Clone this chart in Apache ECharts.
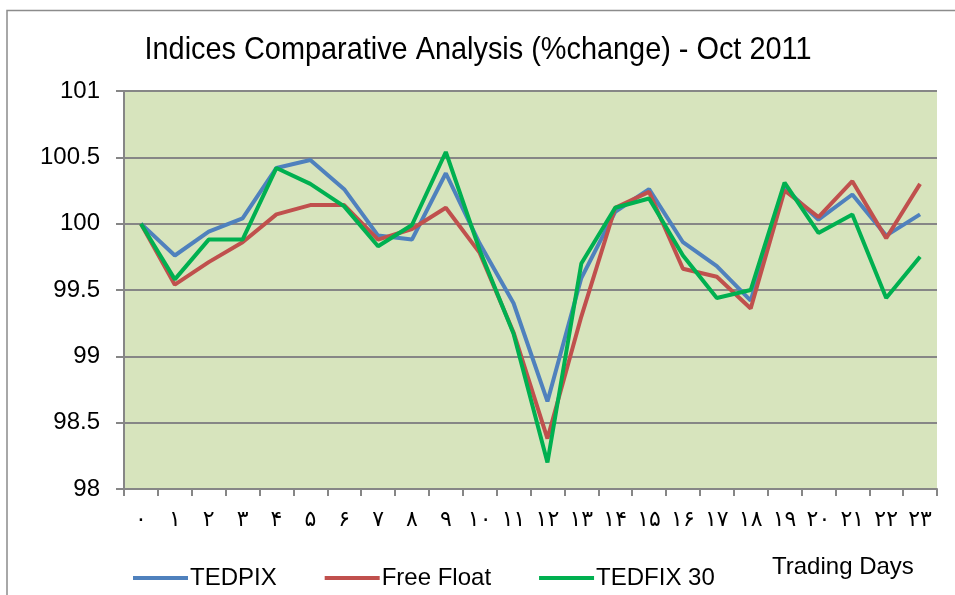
<!DOCTYPE html>
<html>
<head>
<meta charset="utf-8">
<script src="https://cdn.jsdelivr.net/npm/echarts@6/dist/echarts.min.js"></script>
<style>html,body{margin:0;padding:0;background:#fff}#c{width:955px;height:595px}</style>
</head>
<body>
<div id="c"></div>
<script>
const categories = ['۰','۱','۲','۳','۴','۵','۶','۷','۸','۹','۱۰','۱۱','۱۲','۱۳','۱۴','۱۵','۱۶','۱۷','۱۸','۱۹','۲۰','۲۱','۲۲','۲۳'];
const tedpix = [100, 99.76, 99.94, 100.04, 100.42, 100.48, 100.26, 99.91, 99.88, 100.38, 99.85, 99.40, 98.66, 99.59, 100.09, 100.26, 99.86, 99.68, 99.42, 100.27, 100.03, 100.22, 99.91, 100.07];
const freeFloat = [100, 99.54, 99.71, 99.86, 100.07, 100.14, 100.14, 99.88, 99.96, 100.12, 99.78, 99.18, 98.38, 99.30, 100.12, 100.24, 99.66, 99.60, 99.36, 100.25, 100.05, 100.32, 99.89, 100.30];
const tedfix30 = [100, 99.58, 99.88, 99.88, 100.42, 100.30, 100.13, 99.83, 99.99, 100.54, 99.80, 99.17, 98.20, 99.70, 100.12, 100.19, 99.76, 99.44, 99.50, 100.31, 99.93, 100.07, 99.44, 99.75];
const seriesNames = ['TEDPIX', 'Free Float', 'TEDFIX 30'];
const titleText = 'Indices Comparative Analysis (%change) - Oct 2011';
const xAxisTitle = 'Trading Days';

const titleFont = '32px "Liberation Sans", Arial, sans-serif';
const ctx = document.createElement('canvas').getContext('2d');
ctx.font = titleFont;
const titleScale = Math.min(1, 667 / ctx.measureText(titleText).width);

const chart = echarts.init(document.getElementById('c'), null, {renderer: 'canvas'});
const gridColor = '#868686';
const mk = (name, data, color) => ({
  name, type: 'line', data, symbol: 'none', smooth: false,
  lineStyle: {color, width: 4}, itemStyle: {color}
});
chart.setOption({
  animation: false,
  backgroundColor: '#fff',
  graphic: [
    {type: 'rect', shape: {x: 7, y: 10.5, width: 1000, height: 700}, style: {fill: 'none', stroke: '#8c8c8c', lineWidth: 1.5}, silent: true},
    {type: 'text', x: 478, y: 50, scaleX: titleScale, style: {text: titleText, font: titleFont, fill: '#000', textAlign: 'center', textVerticalAlign: 'middle'}},
    {type: 'text', left: 772, top: 555, style: {text: xAxisTitle, font: '24px "Liberation Sans", Arial, sans-serif', fill: '#000'}}
  ],
  legend: {
    left: 128, top: 561, itemWidth: 55, itemHeight: 14, itemGap: 48,
    icon: 'path://M0,5 L55,5 L55,9 L0,9 Z',
    textStyle: {fontFamily: '"Liberation Sans", Arial, sans-serif', fontSize: 24, color: '#000', padding: [0, 0, 0, -3]},
    data: seriesNames
  },
  grid: {left: 124, right: 18, top: 91, bottom: 106, show: true, backgroundColor: '#d7e4bd', borderWidth: 0},
  xAxis: {
    type: 'category', data: categories, boundaryGap: true,
    axisLine: {lineStyle: {color: gridColor, width: 2}},
    axisTick: {show: true, length: 7, lineStyle: {color: gridColor, width: 2}},
    axisLabel: {color: '#000', fontSize: 22, margin: 20, fontFamily: '"DejaVu Sans", sans-serif', interval: 0}
  },
  yAxis: {
    type: 'value', min: 98, max: 101, interval: 0.5,
    axisLine: {show: true, lineStyle: {color: gridColor, width: 2}},
    axisTick: {show: true, length: 8, lineStyle: {color: gridColor, width: 2}},
    axisLabel: {color: '#000', fontSize: 24, margin: 24, fontFamily: '"Liberation Sans", Arial, sans-serif'},
    splitLine: {show: true, lineStyle: {color: gridColor, width: 2}}
  },
  series: [
    mk(seriesNames[0], tedpix, '#4f81bd'),
    mk(seriesNames[1], freeFloat, '#c0504d'),
    mk(seriesNames[2], tedfix30, '#00b050')
  ]
});
</script>
</body>
</html>
